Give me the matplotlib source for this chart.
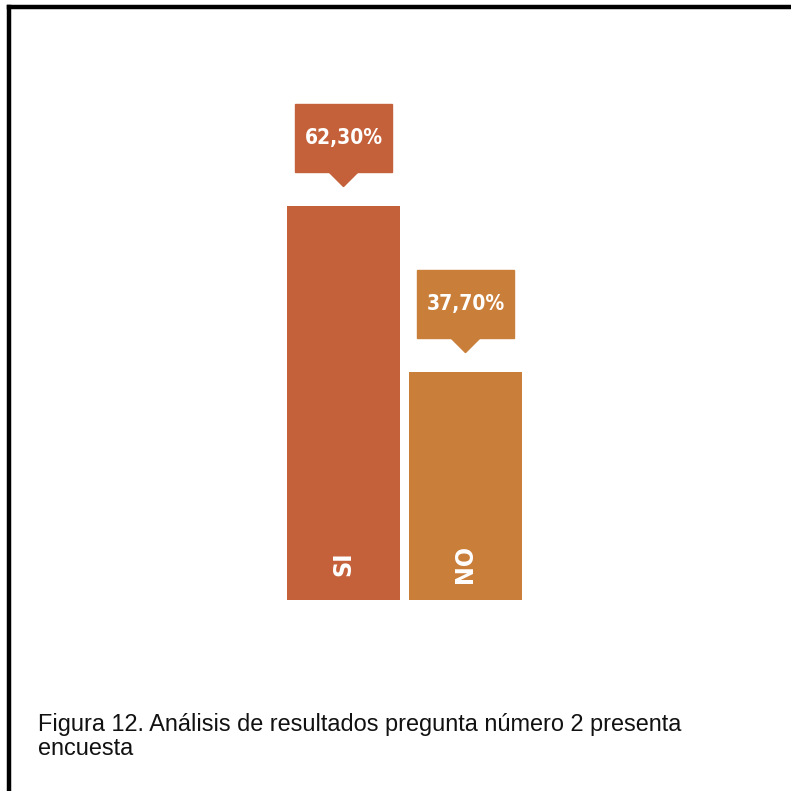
import matplotlib.pyplot as plt
from matplotlib.patches import Polygon, Rectangle
from matplotlib.lines import Line2D

# survey answer data
categories = ['SI', 'NO']
values = [62.30, 37.70]
value_labels = ['62,30%', '37,70%']
colors = ['#C4613A', '#C97E3A']

caption = 'Figura 12. Análisis de resultados pregunta número 2 presenta\nencuesta'

label_font = ['DejaVu Sans']

fig = plt.figure(figsize=(7.91, 7.91), dpi=100)
fig.patch.set_facecolor('white')

# bars are cut a little above their zero line, as in the infographic
ax = fig.add_axes([282.5 / 791, 1 - 600 / 791, 244 / 791, 506 / 791])
ax.set_xlim(-0.5, 1.5)
ax.set_ylim(3.93, 78.9)
ax.axis('off')

x = list(range(len(categories)))
ax.bar(x, values, width=0.926, color=colors)

px = (78.9 - 3.93) / 506  # data units per pixel (vertical)
for xi, v, lab, cat, c in zip(x, values, value_labels, categories, colors):
    # callout box above bar
    gap = 34.5 * px
    h = 68 * px
    tri = 15 * px
    w = 0.80
    y0 = v + gap
    ax.add_patch(Rectangle((xi - w / 2, y0), w, h, color=c, clip_on=False))
    ax.add_patch(Polygon([[xi - 0.123, y0], [xi + 0.123, y0], [xi, y0 - tri]],
                         closed=True, color=c, clip_on=False))
    ax.text(xi, y0 + h / 2, lab, color='white', ha='center', va='center',
            fontsize=15, fontweight='bold', fontstretch='condensed',
            family=label_font)
    # category label inside bar
    ax.text(xi, 3.93 + 36 * px, cat, color='white', ha='center', va='center',
            rotation=90, fontsize=18, fontweight='bold',
            fontstretch='condensed', family=label_font)

# frame lines at top and left
fig.add_artist(Line2D([8.5 / 791, 1], [1 - 7 / 791, 1 - 7 / 791],
                      transform=fig.transFigure, color='black', lw=3.2))
fig.add_artist(Line2D([8.5 / 791, 8.5 / 791], [0, 1 - 7 / 791],
                      transform=fig.transFigure, color='black', lw=3.2))

fig.text(38 / 791, 1 - 713 / 791, caption, ha='left', va='top',
         fontsize=16.9, family=['Liberation Sans', 'DejaVu Sans'],
         color='#111111', linespacing=1.05)

fig.savefig('out.png', dpi=100)
